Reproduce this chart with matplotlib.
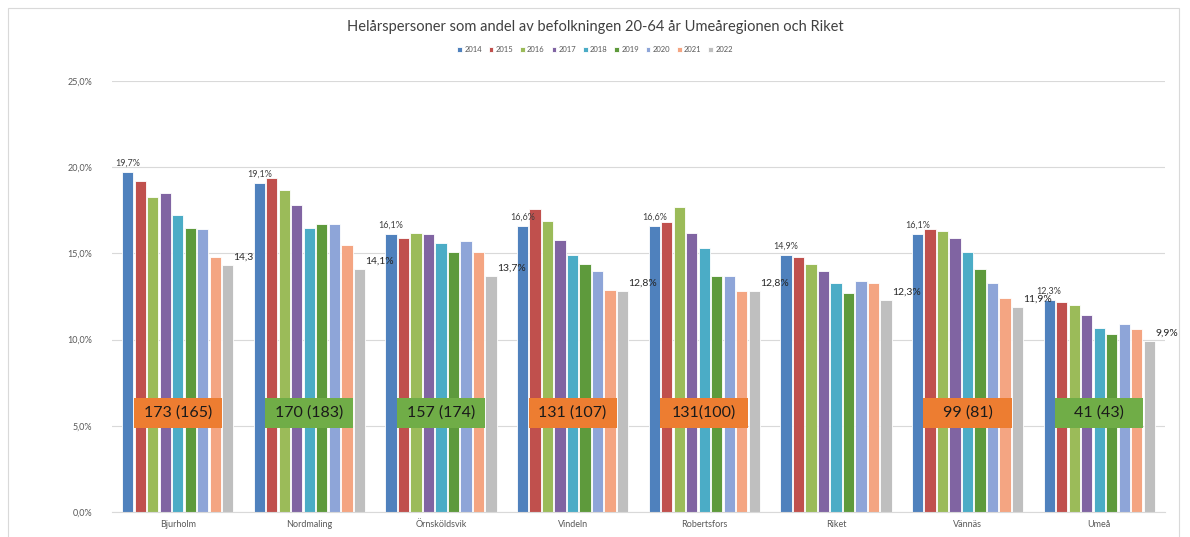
import matplotlib.pyplot as plt
import numpy as np
from matplotlib.patches import Rectangle

plt.rcParams['font.family'] = ['Lato', 'DejaVu Sans']

## Data
categories = ["Bjurholm", "Nordmaling", "Örnsköldsvik", "Vindeln", "Robertsfors",
              "Riket", "Vännäs", "Umeå"]
years = ["2014", "2015", "2016", "2017", "2018", "2019", "2020", "2021", "2022"]
values = {
    "2014": [19.7, 19.1, 16.1, 16.6, 16.6, 14.9, 16.1, 12.3],
    "2015": [19.2, 19.4, 15.9, 17.6, 16.8, 14.8, 16.4, 12.2],
    "2016": [18.3, 18.7, 16.2, 16.9, 17.7, 14.4, 16.3, 12.0],
    "2017": [18.5, 17.8, 16.1, 15.8, 16.2, 14.0, 15.9, 11.4],
    "2018": [17.2, 16.5, 15.6, 14.9, 15.3, 13.3, 15.1, 10.7],
    "2019": [16.5, 16.7, 15.1, 14.4, 13.7, 12.7, 14.1, 10.3],
    "2020": [16.4, 16.7, 15.7, 14.0, 13.7, 13.4, 13.3, 10.9],
    "2021": [14.8, 15.5, 15.1, 12.9, 12.8, 13.3, 12.4, 10.6],
    "2022": [14.3, 14.1, 13.7, 12.8, 12.8, 12.3, 11.9, 9.9],
}
first_labels = ["19,7%", "19,1%", "16,1%", "16,6%", "16,6%", "14,9%", "16,1%", "12,3%"]
last_labels = ["14,3", "14,1%", "13,7%", "12,8%", "12,8%", "12,3%", "11,9%", "9,9%"]
box_texts = ["173 (165)", "170 (183)", "157 (174)", "131 (107)", "131(100)", None, "99 (81)", "41 (43)"]
box_colors = ["#ED7D31", "#70AD47", "#70AD47", "#ED7D31", "#ED7D31", None, "#ED7D31", "#70AD47"]
colors = ["#4F81BD", "#C0504D", "#9BBB59", "#8064A2", "#4BACC6",
          "#5E9A3C", "#8EA5D8", "#F4A582", "#BFBFBF"]

fig = plt.figure(figsize=(11.9, 5.37), dpi=100)
ax = fig.add_axes([0.094, 0.0466, 0.885, 0.8025])

x = np.arange(len(categories))
n = len(years)
step = 0.095
width = 0.086
for i, y in enumerate(years):
    ax.bar(x + (i - (n - 1) / 2) * step, values[y], width, color=colors[i],
           edgecolor="white", linewidth=0.6, label=y, zorder=2)

## Data labels on first and last bar
for j in range(len(categories)):
    x0 = x[j] - (n - 1) / 2 * step
    ax.text(x0, values["2014"][j] + 0.25, first_labels[j], ha="center", va="bottom",
            fontsize=6.5, color="#404040")
    x1 = x[j] + (n - 1) / 2 * step
    ax.text(x1 + 0.045, values["2022"][j] + 0.2, last_labels[j], ha="left", va="bottom",
            fontsize=7.5, color="#262626")

## Coloured boxes with counts
for j in range(len(categories)):
    if box_texts[j] is None:
        continue
    ax.add_patch(Rectangle((x[j] - 0.335, 4.9), 0.67, 1.7, facecolor=box_colors[j],
                           edgecolor="none", zorder=3))
    ax.text(x[j], 5.75, box_texts[j], ha="center", va="center", fontsize=11.5,
            color="#1a1a1a", zorder=4)

ax.set_xlim(-0.5, len(categories) - 0.5)
ax.set_ylim(0, 25)
ax.set_yticks(np.arange(0, 26, 5))
ax.yaxis.set_tick_params(labelsize=6.5, labelcolor="#595959", length=0, pad=14)
ax.set_xticks(x)
ax.set_xticklabels(categories)
ax.xaxis.set_tick_params(labelsize=6.5, labelcolor="#595959", length=0, pad=6)
ax.set_yticklabels([("%.1f%%" % v).replace(".", ",") for v in np.arange(0, 26, 5)])
ax.grid(axis="y", color="#D9D9D9", linewidth=0.8, zorder=0)
for s in ax.spines.values():
    s.set_visible(False)
ax.spines["bottom"].set_visible(True)
ax.spines["bottom"].set_color("#D9D9D9")

fig.text(0.5, 0.949, "Helårspersoner som andel av befolkningen 20-64 år Umeåregionen och Riket",
         ha="center", va="center", fontsize=10.5, color="#404040")
fig.legend(loc="center", bbox_to_anchor=(0.5, 0.908), ncol=9, fontsize=5.5, frameon=False,
           handlelength=0.6, handleheight=0.6, handletextpad=0.3, columnspacing=0.9,
           labelcolor="#595959")

## Outer chart border
fig.add_artist(Rectangle((0.007, -0.02), 0.984, 1.005, transform=fig.transFigure,
                         fill=False, edgecolor="#D9D9D9", linewidth=0.8))

fig.savefig("out.png", dpi=100)
